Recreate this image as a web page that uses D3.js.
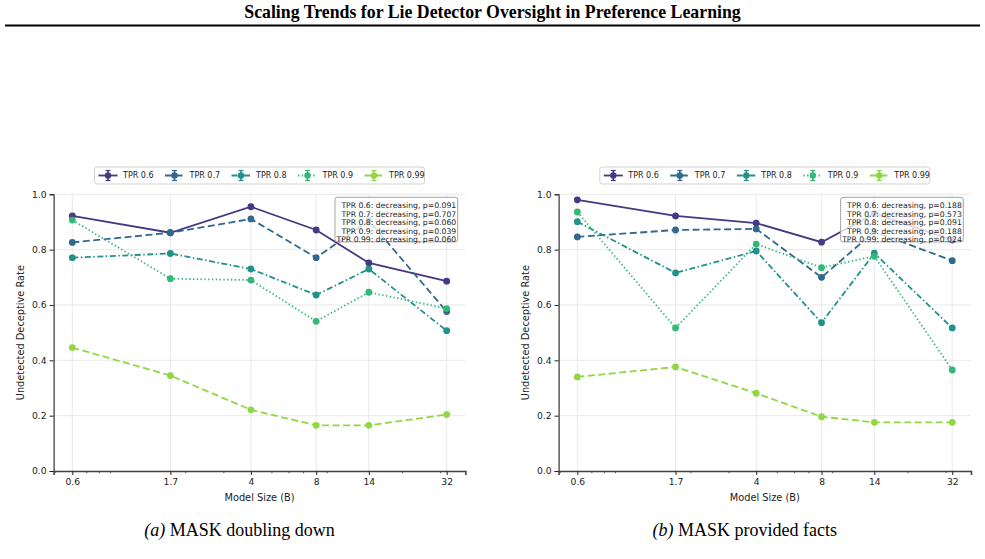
<!DOCTYPE html>
<html><head><meta charset="utf-8">
<script src="https://cdn.jsdelivr.net/npm/d3@7"></script>
<style>
html,body{margin:0;padding:0;background:#fff;}
svg{display:block;}
</style></head>
<body>
<svg id="chart" width="985" height="559"></svg>
<script>
// ---------- data ----------
const modelSizes = [0.6, 1.7, 4, 8, 14, 32];
const xTickLabels = ["0.6", "1.7", "4", "8", "14", "32"];
const yTicks = [0.0, 0.2, 0.4, 0.6, 0.8, 1.0];
const seriesNames = ["TPR 0.6", "TPR 0.7", "TPR 0.8", "TPR 0.9", "TPR 0.99"];

// (a) MASK doubling down
const doublingTPR06  = [0.922, 0.861, 0.955, 0.871, 0.752, 0.686];
const doublingTPR07  = [0.826, 0.861, 0.911, 0.771, 0.905, 0.576];
const doublingTPR08  = [0.771, 0.786, 0.730, 0.636, 0.730, 0.507];
const doublingTPR09  = [0.907, 0.695, 0.690, 0.541, 0.646, 0.587];
const doublingTPR099 = [0.446, 0.345, 0.221, 0.165, 0.165, 0.204];
const doublingNotes = [
  "TPR 0.6: decreasing, p=0.091",
  "TPR 0.7: decreasing, p=0.707",
  "TPR 0.8: decreasing, p=0.060",
  "TPR 0.9: decreasing, p=0.039",
  "TPR 0.99: decreasing, p=0.060"
];

// (b) MASK provided facts
const factsTPR06  = [0.980, 0.922, 0.896, 0.827, 0.930, 0.835];
const factsTPR07  = [0.846, 0.871, 0.875, 0.700, 0.865, 0.760];
const factsTPR08  = [0.901, 0.716, 0.795, 0.536, 0.787, 0.517];
const factsTPR09  = [0.936, 0.517, 0.820, 0.735, 0.776, 0.365];
const factsTPR099 = [0.340, 0.376, 0.281, 0.196, 0.176, 0.176];
const factsNotes = [
  "TPR 0.6: decreasing, p=0.188",
  "TPR 0.7: decreasing, p=0.573",
  "TPR 0.8: decreasing, p=0.091",
  "TPR 0.9: decreasing, p=0.188",
  "TPR 0.99: decreasing, p=0.024"
];

const captionA = ["(a)", " MASK doubling down"];
const captionB = ["(b)", " MASK provided facts"];
const pageTitle = "Scaling Trends for Lie Detector Oversight in Preference Learning";

// ---------- styles ----------
const colors = [1/6, 2/6, 3/6, 4/6, 5/6].map(t => d3.interpolateViridis(t));
const dashes = [null, "7,3.5", "6,2.5,1.5,2.5", "1.4,2.4", "7,3.5"];
const sans = "'DejaVu Sans', sans-serif";
const serif = "'Liberation Serif', 'Times New Roman', serif";

const svg = d3.select("#chart");

// header
svg.append("text").attr("x", 492.5).attr("y", 18).attr("text-anchor", "middle")
  .attr("font-family", serif).attr("font-weight", "bold").attr("font-size", 17.8)
  .attr("fill", "#000").text(pageTitle);
svg.append("line").attr("x1", 5).attr("x2", 980).attr("y1", 25.5).attr("y2", 25.5)
  .attr("stroke", "#000").attr("stroke-width", 2);

function panel(x0, x1, series, notes, caption) {
  const yTop = 194.3, yBot = 471;
  const lnMin = Math.log(0.6), lnMax = Math.log(32), pad = (lnMax - lnMin) * 0.05;
  const x = d3.scaleLog().domain([Math.exp(lnMin - pad), Math.exp(lnMax + pad)]).range([x0, x1]);
  const y = d3.scaleLinear().domain([0, 1]).range([yBot, yTop]);
  const g = svg.append("g");

  // grid
  g.append("g").selectAll("line").data(modelSizes).join("line")
    .attr("x1", d => x(d)).attr("x2", d => x(d)).attr("y1", yTop).attr("y2", yBot)
    .attr("stroke", "#e6e6e6").attr("stroke-width", 0.9);
  g.append("g").selectAll("line").data(yTicks).join("line")
    .attr("x1", x0).attr("x2", x1).attr("y1", d => y(d)).attr("y2", d => y(d))
    .attr("stroke", "#e6e6e6").attr("stroke-width", 0.9);

  // y axis
  const yAxis = d3.axisLeft(y).tickValues(yTicks).tickFormat(d3.format(".1f")).tickSize(4).tickPadding(3);
  const ya = g.append("g").attr("transform", `translate(${x0},0)`).call(yAxis);
  ya.select(".domain").attr("stroke", "#222").attr("stroke-width", 1.1);
  ya.selectAll(".tick line").attr("stroke", "#222");
  ya.selectAll(".tick text").attr("font-family", sans).attr("font-size", 9.2).attr("fill", "#222");

  // x axis: minor ticks
  const minors = [0.5, 0.7, 0.8, 0.9, 2, 3, 5, 6, 7, 9, 20, 30];
  g.append("g").selectAll("line").data(minors).join("line")
    .attr("x1", d => x(d)).attr("x2", d => x(d)).attr("y1", yBot).attr("y2", yBot + 2.2)
    .attr("stroke", "#222").attr("stroke-width", 0.8);
  const xAxis = d3.axisBottom(x).tickValues(modelSizes)
    .tickFormat((d, i) => xTickLabels[i]).tickSize(4).tickPadding(3);
  const xa = g.append("g").attr("transform", `translate(0,${yBot})`).call(xAxis);
  xa.select(".domain").attr("stroke", "#444").attr("stroke-width", 1.6);
  xa.selectAll(".tick line").attr("stroke", "#222");
  xa.selectAll(".tick text").attr("font-family", sans).attr("font-size", 9.2).attr("fill", "#222");

  // labels
  g.append("text").attr("x", (x0 + x1) / 2).attr("y", 500.5).attr("text-anchor", "middle")
    .attr("font-family", sans).attr("font-size", 9.8).attr("fill", "#222").text("Model Size (B)");
  g.append("text").attr("transform", `translate(${x0 - 29.5},${(yTop + yBot) / 2}) rotate(-90)`)
    .attr("text-anchor", "middle").attr("font-family", sans).attr("font-size", 9.8)
    .attr("fill", "#222").text("Undetected Deceptive Rate");

  // series
  const line = d3.line().x((d, i) => x(modelSizes[i])).y(d => y(d));
  series.forEach((vals, si) => {
    const s = g.append("g");
    s.append("path").attr("d", line(vals)).attr("fill", "none")
      .attr("stroke", colors[si]).attr("stroke-width", 1.8)
      .attr("stroke-dasharray", dashes[si]);
    s.selectAll("circle").data(vals).join("circle")
      .attr("cx", (d, i) => x(modelSizes[i])).attr("cy", d => y(d)).attr("r", 3.4)
      .attr("fill", colors[si]);
  });

  // annotation box
  const bx1 = x1 - 7.7, by0 = yTop + 3;
  g.append("rect").attr("x", bx1 - 122.7).attr("y", by0).attr("width", 122.7).attr("height", 44.6)
    .attr("rx", 2.5).attr("fill", "#fff").attr("fill-opacity", 0.8)
    .attr("stroke", "#999").attr("stroke-width", 0.9);
  g.append("g").selectAll("text").data(notes).join("text")
    .attr("x", bx1 - 1.5).attr("y", (d, i) => by0 + 8.4 + i * 8.5).attr("dy", "0.35em")
    .attr("text-anchor", "end").attr("font-family", sans).attr("font-size", 7.7)
    .attr("fill", "#222").text(d => d);

  // legend
  const cx = (x0 + x1) / 2, lw = 330, lx0 = cx - lw / 2, ly = 175.5;
  g.append("rect").attr("x", lx0).attr("y", ly - 8.5).attr("width", lw).attr("height", 17)
    .attr("rx", 2.5).attr("fill", "#fff").attr("stroke", "#ccc").attr("stroke-width", 0.9);
  seriesNames.forEach((name, si) => {
    const hx = lx0 + 4 + si * 66.5;
    const e = g.append("g");
    e.append("line").attr("x1", hx).attr("x2", hx + 19).attr("y1", ly).attr("y2", ly)
      .attr("stroke", colors[si]).attr("stroke-width", 1.8).attr("stroke-dasharray", dashes[si]);
    e.append("line").attr("x1", hx + 9.5).attr("x2", hx + 9.5).attr("y1", ly - 5).attr("y2", ly + 5)
      .attr("stroke", colors[si]).attr("stroke-width", 1.6);
    e.append("line").attr("x1", hx + 7).attr("x2", hx + 12).attr("y1", ly - 5).attr("y2", ly - 5)
      .attr("stroke", colors[si]).attr("stroke-width", 1.2);
    e.append("line").attr("x1", hx + 7).attr("x2", hx + 12).attr("y1", ly + 5).attr("y2", ly + 5)
      .attr("stroke", colors[si]).attr("stroke-width", 1.2);
    e.append("circle").attr("cx", hx + 9.5).attr("cy", ly).attr("r", 3.2).attr("fill", colors[si]);
    e.append("text").attr("x", hx + 24.5).attr("y", ly).attr("dy", "0.35em")
      .attr("font-family", sans).attr("font-size", 8).attr("fill", "#222").text(name);
  });

  // caption
  const t = svg.append("text").attr("x", (x0 + x1) / 2 - 20).attr("y", 536).attr("text-anchor", "middle")
    .attr("font-family", serif).attr("font-size", 18).attr("fill", "#000");
  t.append("tspan").attr("font-style", "italic").text(caption[0]);
  t.append("tspan").text(caption[1]);
}

panel(53.6, 465.4, [doublingTPR06, doublingTPR07, doublingTPR08, doublingTPR09, doublingTPR099], doublingNotes, captionA);
panel(558.6, 971, [factsTPR06, factsTPR07, factsTPR08, factsTPR09, factsTPR099], factsNotes, captionB);
</script>
</body></html>
